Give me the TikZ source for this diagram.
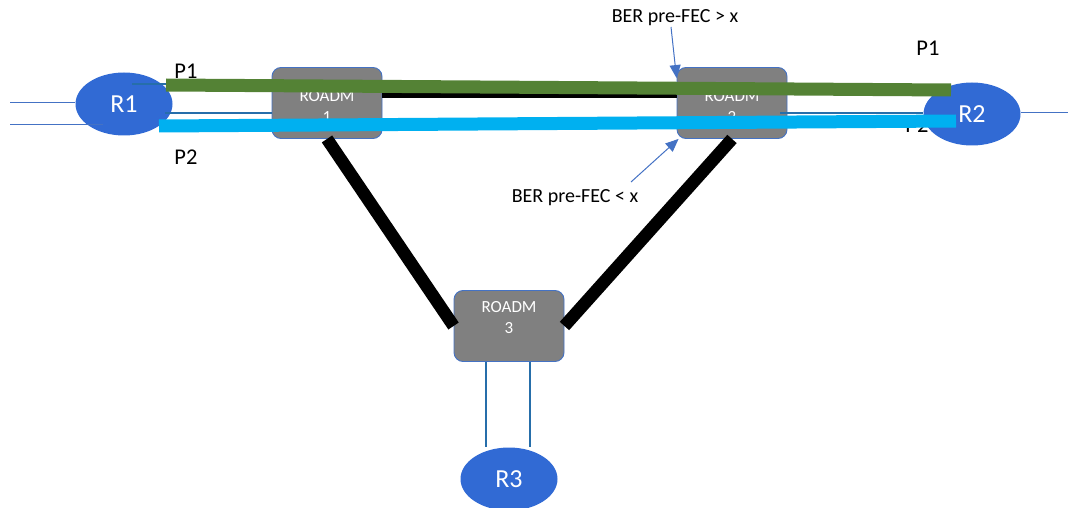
\documentclass[tikz,border=0pt]{standalone}
\usepackage{fontspec}
\setmainfont{Carlito}
\usetikzlibrary{shapes.geometric, arrows.meta, positioning, calc}

\begin{document}
\begin{tikzpicture}[x=1pt, y=-1pt,
    router/.style={ellipse, fill=routerblue, draw=none, minimum width=97pt, minimum height=63pt, inner sep=0pt, text=white, font=\fontsize{26}{28}\selectfont},
    roadm/.style={rounded corners=9pt, fill=roadmgray, draw=edgeblue, line width=0.9pt, minimum width=110pt, minimum height=71pt, inner sep=0pt},
    roadmtext/.style={text=white, align=center, font=\fontsize{17}{21}\selectfont},
    trunk/.style={black, line width=12.5pt},
    drop/.style={tealblue, line width=1.8pt},
    feed/.style={edgeblue, line width=1pt},
    plabel/.style={font=\fontsize{22.5}{24}\selectfont},
    berlabel/.style={font=\fontsize{20}{22}\selectfont},
    pointer/.style={edgeblue, line width=1pt, -{Triangle[length=13pt, width=11pt]}}
    ]
        % colours
        \definecolor{routerblue}{RGB}{49, 106, 212}
        \definecolor{roadmgray}{RGB}{128, 128, 128}
        \definecolor{edgeblue}{RGB}{68, 114, 196}
        \definecolor{tealblue}{RGB}{38, 110, 170}
        \definecolor{pathgreen}{RGB}{84, 130, 53}
        \definecolor{pathcyan}{RGB}{0, 176, 240}

        \useasboundingbox (0,0) rectangle (1068,508);

        % label hidden behind R2
        \node[plabel] (ptwo r) at (917,125) {P2};

        % 1. routers and ROADM boxes
        \node[router] (r1) at (124,104) {R1};
        \node[router] (r2) at (972,114) {R2};
        \node[router] (r3) at (509,479) {R3};

        \node[roadm] (roadm1) at (327,103) {};
        \node[roadm] (roadm2) at (732,103) {};
        \node[roadm] (roadm3) at (509,326) {};
        \node[roadmtext] (lbl_roadm1) at ([yshift=-3]roadm1.center) {ROADM\\1};
        \node[roadmtext] (lbl_roadm2) at ([yshift=-3]roadm2.center) {ROADM\\2};
        \node[roadmtext] (lbl_roadm3) at ([yshift=8]roadm3.center) {ROADM\\3};

        % 2. thin access links
        \coordinate (in1) at (10,103);
        \coordinate (in2) at (10,125);
        \coordinate (out2) at (1068,113);
        \draw[feed] (in1) -- (in1 -| r1.west);
        \draw[feed] (in2) -- (103,125);
        \draw[feed] (r2.east |- out2) -- (out2);

        \draw[drop] (132,84) -- (roadm1.west |- 0,84);
        \draw[drop] (165,113) -- (roadm1.west |- 0,113);
        \draw[drop] ([xshift=-7]roadm2.east |- 0,113) -- (r2.west |- 0,113);
        \draw[drop] (roadm3.south -| 486,0) -- (r3.north -| 486,0);
        \draw[drop] (roadm3.south -| 530,0) -- (r3.north -| 530,0);

        % 3. fibre ring between the ROADMs
        \draw[black, line width=5.5pt] ([yshift=8]roadm1.east) -- ([yshift=8]roadm2.west);
        \draw[trunk] (roadm1.south) -- (roadm3.west);
        \draw[trunk] (roadm2.south) -- (roadm3.east);

        % 4. optical paths P1 and P2
        \coordinate (p1a) at (166,85);
        \coordinate (p1b) at (951,90);
        \coordinate (p2a) at (159,126);
        \coordinate (p2b) at (956,121);
        \draw[pathgreen, line width=13pt] (p1a) -- (p1b);
        \draw[pathcyan, line width=13pt] (p2a) -- (p2b);

        \node[plabel] (pone l) at (186,71) {P1};
        \node[plabel] (ptwo l) at (186,157) {P2};
        \node[plabel] (pone r) at (928,48) {P1};

        % 5. BER annotations
        \node[berlabel] (ber_hi) at (675,18) {BER pre-FEC > x};
        \node[berlabel] (ber_lo) at (575,198) {BER pre-FEC < x};
        \coordinate (tail_hi) at (671,27);
        \coordinate (tail_lo) at (631,182);
        \draw[pointer] (tail_hi) -- ([yshift=-11]roadm2.north west);
        \draw[pointer] (tail_lo) -- ([xshift=2]roadm2.south west);

    \end{tikzpicture}
\end{document}
